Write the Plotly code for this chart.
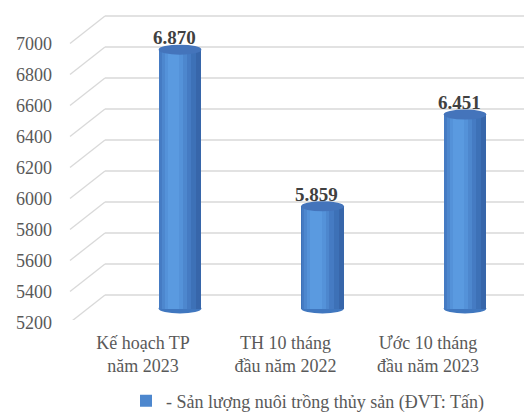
import plotly.graph_objects as go

# ---- data ----
categories = ["Kế hoạch TP<br>năm 2023", "TH 10 tháng<br>đầu năm 2022", "Ước 10 tháng<br>đầu năm 2023"]
values = [6870, 5859, 6451]
series_name = "- Sản lượng nuôi trồng thủy sản (ĐVT: Tấn)"
y_ticks = [5200, 5400, 5600, 5800, 6000, 6200, 6400, 6600, 6800, 7000]

BASE = y_ticks[0]
FONT = "Liberation Serif"
TXT = "#595959"

# the page body has an 8px margin, so the figure is drawn 8px in from the window edge
OFF = 8
W, H = 532 - OFF, 416 - OFF
L, R, T, B = 105 - OFF, 0, 10 - OFF, 416 - 320
plot_w = W - L - R
plot_h = H - T - B
px_per_cat = 142.5
first_cat_px = 180 - OFF
x_range = [(L - first_cat_px) / px_per_cat, (W - R - first_cat_px) / px_per_cat]
# mid-depth scale (window px): 7000 -> 29.5, 5200 -> 308.5
top_px, bot_px = 29.5 - OFF, 308.5 - OFF
u_per_px = (y_ticks[-1] - y_ticks[0]) / (bot_px - top_px)
y_range = [BASE - ((H - B) - bot_px) * u_per_px, y_ticks[-1] + (top_px - T) * u_per_px]

xs = list(range(len(values)))
bw = 0.3

# cylinder shading layers: (start offset frac, width frac, colour)
layers = [
    (-0.5, 1.0, "#3766aa"),
    (-0.5, 0.88, "#3d71b7"),
    (-0.48, 0.74, "#457bc3"),
    (-0.43, 0.59, "#4d87ce"),
    (-0.36, 0.44, "#5492d9"),
    (-0.29, 0.27, "#5a9ae0"),
]

fig = go.Figure()
for k, (off, wf, col) in enumerate(layers):
    fig.add_trace(go.Bar(
        x=xs, y=[v - BASE for v in values], base=[BASE] * len(values),
        width=bw * wf, offset=bw * off,
        marker=dict(color=col, line=dict(width=0)),
        name=series_name, showlegend=(k == 3), hoverinfo="skip",
    ))

shapes = []
# back-wall grid with perspective diagonals
for t in y_ticks:
    shapes.append(dict(type="line", xref="paper", yref="y", ysizemode="pixel", yanchor=t,
                       x0=(70 - 105) / plot_w, x1=0, y0=-14, y1=13.5,
                       line=dict(color="#d9d9d9", width=1.3), layer="below"))
    shapes.append(dict(type="line", xref="paper", yref="y", ysizemode="pixel", yanchor=t,
                       x0=0, x1=1, y0=13.5, y1=13.5,
                       line=dict(color="#d9d9d9", width=1.3), layer="below"))
# cylinder bottoms and tops
for x, v in zip(xs, values):
    shapes.append(dict(type="circle", xref="x", yref="y", ysizemode="pixel", yanchor=BASE,
                       x0=x - bw / 2, x1=x + bw / 2, y0=-5, y1=5,
                       fillcolor="#4077bf", line=dict(width=0), layer="below"))
    shapes.append(dict(type="circle", xref="x", yref="y", ysizemode="pixel", yanchor=v,
                       x0=x - bw / 2, x1=x + bw / 2, y0=-5, y1=5,
                       fillcolor="#4474bb", line=dict(width=0), layer="above"))

annotations = []
for x, v in zip(xs, values):
    annotations.append(dict(x=x, y=v, xref="x", yref="y", text=f"<b>{v:,}</b>".replace(",", "."),
                            showarrow=False, yshift=12, xshift=-6,
                            font=dict(family=FONT, size=19, color="#404040")))

fig.update_layout(
    width=W, height=H,
    margin=dict(l=L, r=R, t=T, b=B, pad=0, autoexpand=False),
    paper_bgcolor="white", plot_bgcolor="rgba(0,0,0,0)",
    barmode="overlay", bargap=0,
    font=dict(family=FONT, size=18, color=TXT),
    shapes=shapes, annotations=annotations,
    legend=dict(orientation="h", x=(126 - 105) / plot_w, xanchor="left",
                y=((H - B) - (401 - OFF)) / plot_h, yanchor="middle",
                font=dict(family=FONT, size=18, color=TXT), bgcolor="rgba(0,0,0,0)"),
    showlegend=True,
)
fig.update_xaxes(range=x_range, tickmode="array", tickvals=xs, ticktext=categories,
                 showgrid=False, zeroline=False, showline=False, ticks="",
                 ticklabelshift=-37, ticklabelstandoff=10, automargin=False,
                 tickfont=dict(family=FONT, size=18, color=TXT), fixedrange=True)
fig.update_yaxes(range=y_range, tickmode="array", tickvals=y_ticks,
                 showgrid=False, zeroline=False, showline=False, ticks="",
                 ticklabelshift=14, ticklabelstandoff=52, automargin=False,
                 tickfont=dict(family=FONT, size=18, color=TXT), fixedrange=True)

fig.write_html("out.html")
